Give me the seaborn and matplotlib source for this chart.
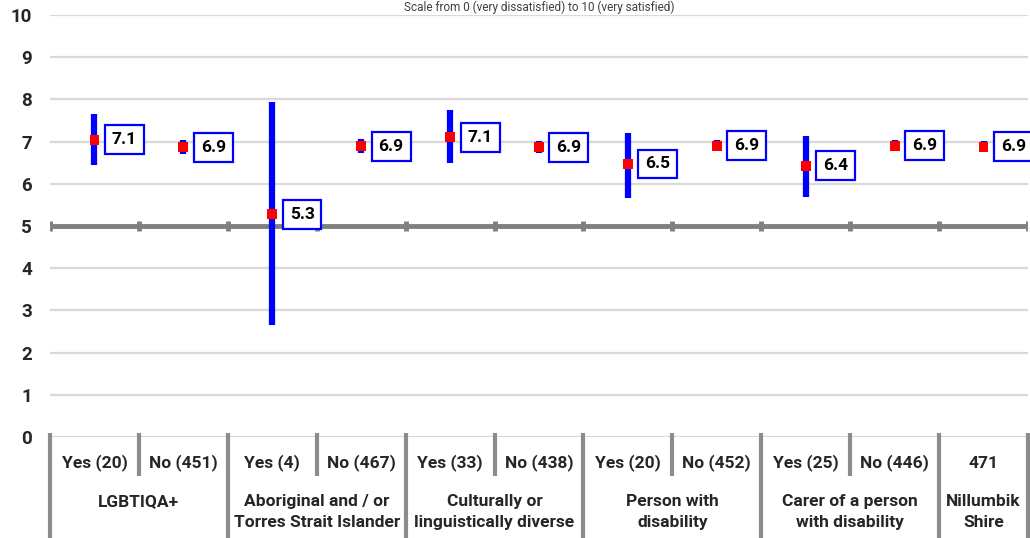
import matplotlib
matplotlib.use("Agg")
import matplotlib.pyplot as plt
import seaborn as sns
import pandas as pd

# Sub-group labels (first row), group labels (second row) and mean scores
subgroups = ["Yes (20)", "No (451)", "Yes (4)", "No (467)", "Yes (33)", "No (438)",
             "Yes (20)", "No (452)", "Yes (25)", "No (446)", "471"]
groups = ["LGBTIQA+", "Aboriginal and / or\nTorres Strait Islander",
          "Culturally or\nlinguistically diverse", "Person with\ndisability",
          "Carer of a person\nwith disability", "Nillumbik\nShire"]
group_sizes = [2, 2, 2, 2, 2, 1]
means = [7.04, 6.87, 5.28, 6.89, 7.10, 6.87, 6.47, 6.90, 6.43, 6.90, 6.88]
labels = ["7.1", "6.9", "5.3", "6.9", "7.1", "6.9", "6.5", "6.9", "6.4", "6.9", "6.9"]
ci_low = [6.44, 6.70, 2.65, 6.74, 6.49, 6.74, 5.66, 6.77, 5.69, 6.77, 6.76]
ci_high = [7.65, 7.03, 7.94, 7.05, 7.75, 7.01, 7.20, 7.04, 7.13, 7.04, 7.01]
title = "Scale from 0 (very dissatisfied) to 10 (very satisfied)"

df = pd.DataFrame({"pos": range(len(subgroups)), "mean": means,
                   "lo": ci_low, "hi": ci_high, "label": labels})

sns.set_theme(style="white")
plt.rcParams["font.family"] = ["Roboto", "DejaVu Sans"]

FS = 12.5
W, H = 1030, 538
fig = plt.figure(figsize=(W / 100, H / 100), dpi=100)
ax = fig.add_axes([50 / W, 101 / H, 978 / W, 422 / H])

ax.set_xlim(-0.5, len(subgroups) - 0.5)
ax.set_ylim(0, 10)
for s in ax.spines.values():
    s.set_visible(False)

# light horizontal gridlines
for v in range(0, 11):
    ax.axhline(v, color="#d9d9d9", lw=1.6, zorder=0)

# gray category axis crossing at 5, with ticks at category boundaries
ax.axhline(5, color="#808080", lw=3.5, zorder=1)
bounds = [i - 0.5 for i in range(len(subgroups) + 1)]
ax.vlines(bounds, 4.87, 5.13, color="#808080", lw=3.5, zorder=1)

# confidence intervals
ax.vlines(df["pos"], df["lo"], df["hi"], color="#0000ff", lw=4.5, zorder=3)

# mean markers
sns.scatterplot(data=df, x="pos", y="mean", marker="s", s=50, color="#ff0000",
                edgecolor="none", linewidth=0, ax=ax, zorder=4, legend=False)

# value labels in boxes
for _, r in df.iterrows():
    ax.annotate(r["label"], xy=(r["pos"], r["mean"]), xytext=(12.5, 0),
                textcoords="offset points", ha="left", va="center",
                fontsize=FS, fontweight="bold", color="black", zorder=5,
                bbox=dict(boxstyle="square,pad=0.4", fc="white", ec="#0000ff", lw=1.6))

ax.set_xticks([])
ax.set_yticks(range(0, 11))
ax.set_yticklabels([str(v) for v in range(0, 11)], fontsize=13.5, fontweight="bold")
ax.tick_params(axis="y", length=0, pad=13)
ax.set_xlabel("")
ax.set_ylabel("")

# two-level category labels beneath the plot
trans = ax.get_xaxis_transform()
def ay(px):
    return (437 - px) / 422

for i, lab in enumerate(subgroups):
    ax.text(i, ay(463), lab, transform=trans, ha="center", va="center",
            fontsize=FS, fontweight="bold", clip_on=False)

start = 0
long_lines = [-0.5]
short_lines = []
for g, n in zip(groups, group_sizes):
    center = start + (n - 1) / 2
    ax.text(center, ay(494), g, transform=trans, ha="center", va="top",
            fontsize=FS, fontweight="bold", linespacing=1.5, clip_on=False)
    for k in range(1, n):
        short_lines.append(start + k - 0.5)
    start += n
    long_lines.append(start - 0.5)

for x in long_lines:
    ax.plot([x, x], [ay(433), ay(545)], transform=trans, color="#8c8c8c",
            lw=3, clip_on=False, solid_capstyle="butt")
for x in short_lines:
    ax.plot([x, x], [ay(433), ay(476)], transform=trans, color="#8c8c8c",
            lw=3, clip_on=False, solid_capstyle="butt")

# scale description along the top edge
fig.text(539 / W, 1 - 11 / H, title, ha="center", va="baseline",
         fontsize=8.5, color="#404040")

fig.savefig("out.png", dpi=100)
